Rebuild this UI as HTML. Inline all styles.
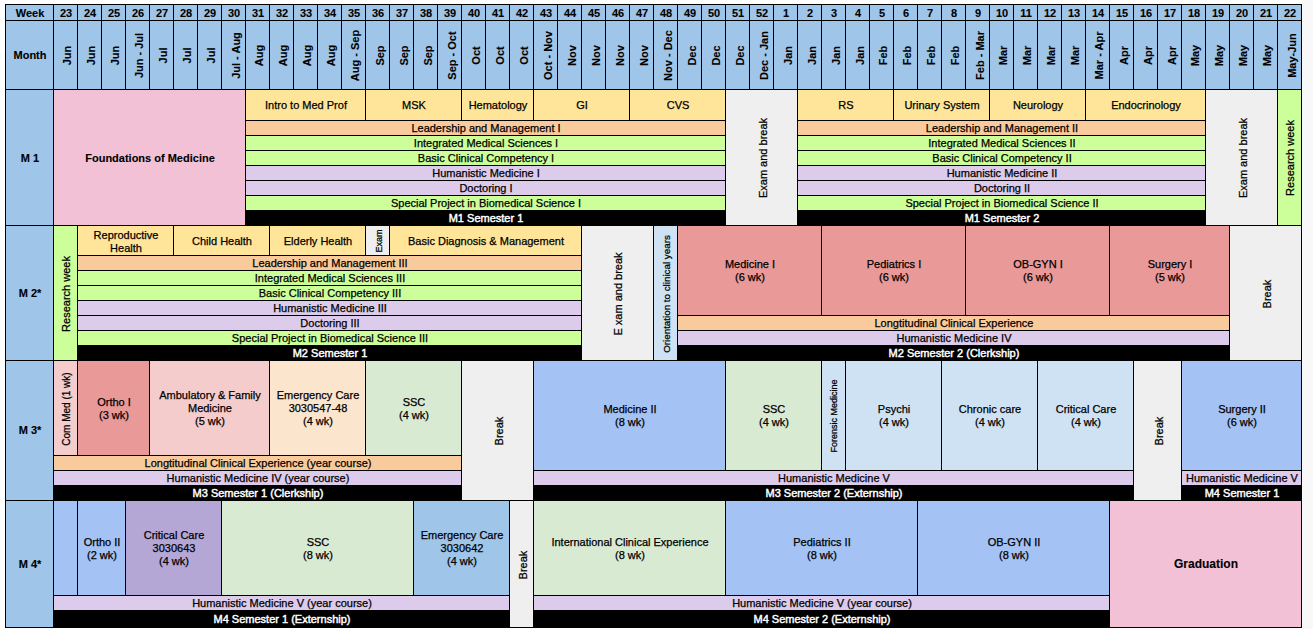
<!DOCTYPE html>
<html><head><meta charset="utf-8"><style>
html,body{margin:0;padding:0;}
body{width:1313px;height:629px;background:#fff;position:relative;overflow:hidden;font-family:"Liberation Sans",sans-serif;font-size:11px;color:#000;-webkit-text-stroke:0.25px currentColor;}
.c{position:absolute;box-sizing:border-box;border:1px solid #000;display:flex;align-items:center;justify-content:center;text-align:center;line-height:13px;white-space:nowrap;overflow:visible;}
.b{font-weight:bold;-webkit-text-stroke:0.1px #000;}
.sem{color:#fff;-webkit-text-stroke:0.45px #fff;}
.rot span{display:block;transform:translate(1px,0.5px) rotate(-90deg);}
.mo span{transform:translate(2px,0) rotate(-90deg);}
.hd{padding-top:2px;}
.sm10{font-size:10px;}
.pt2{padding-top:2px;}
.c{padding-left:1px;}

#rs{position:absolute;left:1302px;top:0;width:11px;height:629px;background:#f7f8f7;}
.sm{font-size:9px;}
.big{font-size:12px;}
</style></head><body>
<div id="rs"></div>

<div class="c b hd" style="left:5px;top:4px;width:49px;height:17px;background:#9fc5e8;">Week</div>
<div class="c b hd" style="left:53px;top:4px;width:25px;height:17px;background:#9fc5e8;">23</div>
<div class="c b hd" style="left:77px;top:4px;width:25px;height:17px;background:#9fc5e8;">24</div>
<div class="c b hd" style="left:101px;top:4px;width:25px;height:17px;background:#9fc5e8;">25</div>
<div class="c b hd" style="left:125px;top:4px;width:25px;height:17px;background:#9fc5e8;">26</div>
<div class="c b hd" style="left:149px;top:4px;width:25px;height:17px;background:#9fc5e8;">27</div>
<div class="c b hd" style="left:173px;top:4px;width:25px;height:17px;background:#9fc5e8;">28</div>
<div class="c b hd" style="left:197px;top:4px;width:25px;height:17px;background:#9fc5e8;">29</div>
<div class="c b hd" style="left:221px;top:4px;width:25px;height:17px;background:#9fc5e8;">30</div>
<div class="c b hd" style="left:245px;top:4px;width:25px;height:17px;background:#9fc5e8;">31</div>
<div class="c b hd" style="left:269px;top:4px;width:25px;height:17px;background:#9fc5e8;">32</div>
<div class="c b hd" style="left:293px;top:4px;width:25px;height:17px;background:#9fc5e8;">33</div>
<div class="c b hd" style="left:317px;top:4px;width:25px;height:17px;background:#9fc5e8;">34</div>
<div class="c b hd" style="left:341px;top:4px;width:25px;height:17px;background:#9fc5e8;">35</div>
<div class="c b hd" style="left:365px;top:4px;width:25px;height:17px;background:#9fc5e8;">36</div>
<div class="c b hd" style="left:389px;top:4px;width:25px;height:17px;background:#9fc5e8;">37</div>
<div class="c b hd" style="left:413px;top:4px;width:25px;height:17px;background:#9fc5e8;">38</div>
<div class="c b hd" style="left:437px;top:4px;width:25px;height:17px;background:#9fc5e8;">39</div>
<div class="c b hd" style="left:461px;top:4px;width:25px;height:17px;background:#9fc5e8;">40</div>
<div class="c b hd" style="left:485px;top:4px;width:25px;height:17px;background:#9fc5e8;">41</div>
<div class="c b hd" style="left:509px;top:4px;width:25px;height:17px;background:#9fc5e8;">42</div>
<div class="c b hd" style="left:533px;top:4px;width:25px;height:17px;background:#9fc5e8;">43</div>
<div class="c b hd" style="left:557px;top:4px;width:25px;height:17px;background:#9fc5e8;">44</div>
<div class="c b hd" style="left:581px;top:4px;width:25px;height:17px;background:#9fc5e8;">45</div>
<div class="c b hd" style="left:605px;top:4px;width:25px;height:17px;background:#9fc5e8;">46</div>
<div class="c b hd" style="left:629px;top:4px;width:25px;height:17px;background:#9fc5e8;">47</div>
<div class="c b hd" style="left:653px;top:4px;width:25px;height:17px;background:#9fc5e8;">48</div>
<div class="c b hd" style="left:677px;top:4px;width:25px;height:17px;background:#9fc5e8;">49</div>
<div class="c b hd" style="left:701px;top:4px;width:25px;height:17px;background:#9fc5e8;">50</div>
<div class="c b hd" style="left:725px;top:4px;width:25px;height:17px;background:#9fc5e8;">51</div>
<div class="c b hd" style="left:749px;top:4px;width:25px;height:17px;background:#9fc5e8;">52</div>
<div class="c b hd" style="left:773px;top:4px;width:25px;height:17px;background:#9fc5e8;">1</div>
<div class="c b hd" style="left:797px;top:4px;width:25px;height:17px;background:#9fc5e8;">2</div>
<div class="c b hd" style="left:821px;top:4px;width:25px;height:17px;background:#9fc5e8;">3</div>
<div class="c b hd" style="left:845px;top:4px;width:25px;height:17px;background:#9fc5e8;">4</div>
<div class="c b hd" style="left:869px;top:4px;width:25px;height:17px;background:#9fc5e8;">5</div>
<div class="c b hd" style="left:893px;top:4px;width:25px;height:17px;background:#9fc5e8;">6</div>
<div class="c b hd" style="left:917px;top:4px;width:25px;height:17px;background:#9fc5e8;">7</div>
<div class="c b hd" style="left:941px;top:4px;width:25px;height:17px;background:#9fc5e8;">8</div>
<div class="c b hd" style="left:965px;top:4px;width:25px;height:17px;background:#9fc5e8;">9</div>
<div class="c b hd" style="left:989px;top:4px;width:25px;height:17px;background:#9fc5e8;">10</div>
<div class="c b hd" style="left:1013px;top:4px;width:25px;height:17px;background:#9fc5e8;">11</div>
<div class="c b hd" style="left:1037px;top:4px;width:25px;height:17px;background:#9fc5e8;">12</div>
<div class="c b hd" style="left:1061px;top:4px;width:25px;height:17px;background:#9fc5e8;">13</div>
<div class="c b hd" style="left:1085px;top:4px;width:25px;height:17px;background:#9fc5e8;">14</div>
<div class="c b hd" style="left:1109px;top:4px;width:25px;height:17px;background:#9fc5e8;">15</div>
<div class="c b hd" style="left:1133px;top:4px;width:25px;height:17px;background:#9fc5e8;">16</div>
<div class="c b hd" style="left:1157px;top:4px;width:25px;height:17px;background:#9fc5e8;">17</div>
<div class="c b hd" style="left:1181px;top:4px;width:25px;height:17px;background:#9fc5e8;">18</div>
<div class="c b hd" style="left:1205px;top:4px;width:25px;height:17px;background:#9fc5e8;">19</div>
<div class="c b hd" style="left:1229px;top:4px;width:25px;height:17px;background:#9fc5e8;">20</div>
<div class="c b hd" style="left:1253px;top:4px;width:25px;height:17px;background:#9fc5e8;">21</div>
<div class="c b hd" style="left:1277px;top:4px;width:25px;height:17px;background:#9fc5e8;">22</div>
<div class="c b" style="left:5px;top:20px;width:49px;height:70px;background:#9fc5e8;">Month</div>
<div class="c b rot mo" style="left:53px;top:20px;width:25px;height:70px;background:#9fc5e8;"><span>Jun</span></div>
<div class="c b rot mo" style="left:77px;top:20px;width:25px;height:70px;background:#9fc5e8;"><span>Jun</span></div>
<div class="c b rot mo" style="left:101px;top:20px;width:25px;height:70px;background:#9fc5e8;"><span>Jun</span></div>
<div class="c b rot mo" style="left:125px;top:20px;width:25px;height:70px;background:#9fc5e8;"><span>Jun - Jul</span></div>
<div class="c b rot mo" style="left:149px;top:20px;width:25px;height:70px;background:#9fc5e8;"><span>Jul</span></div>
<div class="c b rot mo" style="left:173px;top:20px;width:25px;height:70px;background:#9fc5e8;"><span>Jul</span></div>
<div class="c b rot mo" style="left:197px;top:20px;width:25px;height:70px;background:#9fc5e8;"><span>Jul</span></div>
<div class="c b rot mo" style="left:221px;top:20px;width:25px;height:70px;background:#9fc5e8;"><span>Jul - Aug</span></div>
<div class="c b rot mo" style="left:245px;top:20px;width:25px;height:70px;background:#9fc5e8;"><span>Aug</span></div>
<div class="c b rot mo" style="left:269px;top:20px;width:25px;height:70px;background:#9fc5e8;"><span>Aug</span></div>
<div class="c b rot mo" style="left:293px;top:20px;width:25px;height:70px;background:#9fc5e8;"><span>Aug</span></div>
<div class="c b rot mo" style="left:317px;top:20px;width:25px;height:70px;background:#9fc5e8;"><span>Aug</span></div>
<div class="c b rot mo" style="left:341px;top:20px;width:25px;height:70px;background:#9fc5e8;"><span>Aug - Sep</span></div>
<div class="c b rot mo" style="left:365px;top:20px;width:25px;height:70px;background:#9fc5e8;"><span>Sep</span></div>
<div class="c b rot mo" style="left:389px;top:20px;width:25px;height:70px;background:#9fc5e8;"><span>Sep</span></div>
<div class="c b rot mo" style="left:413px;top:20px;width:25px;height:70px;background:#9fc5e8;"><span>Sep</span></div>
<div class="c b rot mo" style="left:437px;top:20px;width:25px;height:70px;background:#9fc5e8;"><span>Sep - Oct</span></div>
<div class="c b rot mo" style="left:461px;top:20px;width:25px;height:70px;background:#9fc5e8;"><span>Oct</span></div>
<div class="c b rot mo" style="left:485px;top:20px;width:25px;height:70px;background:#9fc5e8;"><span>Oct</span></div>
<div class="c b rot mo" style="left:509px;top:20px;width:25px;height:70px;background:#9fc5e8;"><span>Oct</span></div>
<div class="c b rot mo" style="left:533px;top:20px;width:25px;height:70px;background:#9fc5e8;"><span>Oct - Nov</span></div>
<div class="c b rot mo" style="left:557px;top:20px;width:25px;height:70px;background:#9fc5e8;"><span>Nov</span></div>
<div class="c b rot mo" style="left:581px;top:20px;width:25px;height:70px;background:#9fc5e8;"><span>Nov</span></div>
<div class="c b rot mo" style="left:605px;top:20px;width:25px;height:70px;background:#9fc5e8;"><span>Nov</span></div>
<div class="c b rot mo" style="left:629px;top:20px;width:25px;height:70px;background:#9fc5e8;"><span>Nov</span></div>
<div class="c b rot mo" style="left:653px;top:20px;width:25px;height:70px;background:#9fc5e8;"><span>Nov - Dec</span></div>
<div class="c b rot mo" style="left:677px;top:20px;width:25px;height:70px;background:#9fc5e8;"><span>Dec</span></div>
<div class="c b rot mo" style="left:701px;top:20px;width:25px;height:70px;background:#9fc5e8;"><span>Dec</span></div>
<div class="c b rot mo" style="left:725px;top:20px;width:25px;height:70px;background:#9fc5e8;"><span>Dec</span></div>
<div class="c b rot mo" style="left:749px;top:20px;width:25px;height:70px;background:#9fc5e8;"><span>Dec - Jan</span></div>
<div class="c b rot mo" style="left:773px;top:20px;width:25px;height:70px;background:#9fc5e8;"><span>Jan</span></div>
<div class="c b rot mo" style="left:797px;top:20px;width:25px;height:70px;background:#9fc5e8;"><span>Jan</span></div>
<div class="c b rot mo" style="left:821px;top:20px;width:25px;height:70px;background:#9fc5e8;"><span>Jan</span></div>
<div class="c b rot mo" style="left:845px;top:20px;width:25px;height:70px;background:#9fc5e8;"><span>Jan</span></div>
<div class="c b rot mo" style="left:869px;top:20px;width:25px;height:70px;background:#9fc5e8;"><span>Feb</span></div>
<div class="c b rot mo" style="left:893px;top:20px;width:25px;height:70px;background:#9fc5e8;"><span>Feb</span></div>
<div class="c b rot mo" style="left:917px;top:20px;width:25px;height:70px;background:#9fc5e8;"><span>Feb</span></div>
<div class="c b rot mo" style="left:941px;top:20px;width:25px;height:70px;background:#9fc5e8;"><span>Feb</span></div>
<div class="c b rot mo" style="left:965px;top:20px;width:25px;height:70px;background:#9fc5e8;"><span>Feb - Mar</span></div>
<div class="c b rot mo" style="left:989px;top:20px;width:25px;height:70px;background:#9fc5e8;"><span>Mar</span></div>
<div class="c b rot mo" style="left:1013px;top:20px;width:25px;height:70px;background:#9fc5e8;"><span>Mar</span></div>
<div class="c b rot mo" style="left:1037px;top:20px;width:25px;height:70px;background:#9fc5e8;"><span>Mar</span></div>
<div class="c b rot mo" style="left:1061px;top:20px;width:25px;height:70px;background:#9fc5e8;"><span>Mar</span></div>
<div class="c b rot mo" style="left:1085px;top:20px;width:25px;height:70px;background:#9fc5e8;"><span>Mar - Apr</span></div>
<div class="c b rot mo" style="left:1109px;top:20px;width:25px;height:70px;background:#9fc5e8;"><span>Apr</span></div>
<div class="c b rot mo" style="left:1133px;top:20px;width:25px;height:70px;background:#9fc5e8;"><span>Apr</span></div>
<div class="c b rot mo" style="left:1157px;top:20px;width:25px;height:70px;background:#9fc5e8;"><span>Apr</span></div>
<div class="c b rot mo" style="left:1181px;top:20px;width:25px;height:70px;background:#9fc5e8;"><span>May</span></div>
<div class="c b rot mo" style="left:1205px;top:20px;width:25px;height:70px;background:#9fc5e8;"><span>May</span></div>
<div class="c b rot mo" style="left:1229px;top:20px;width:25px;height:70px;background:#9fc5e8;"><span>May</span></div>
<div class="c b rot mo" style="left:1253px;top:20px;width:25px;height:70px;background:#9fc5e8;"><span>May</span></div>
<div class="c b rot mo" style="left:1277px;top:20px;width:25px;height:70px;background:#9fc5e8;"><span>May-Jun</span></div>
<div class="c b pt2" style="left:5px;top:89px;width:49px;height:137px;background:#9fc5e8;">M 1</div>
<div class="c b" style="left:5px;top:225px;width:49px;height:136px;background:#9fc5e8;">M 2*</div>
<div class="c b" style="left:5px;top:360px;width:49px;height:141px;background:#9fc5e8;">M 3*</div>
<div class="c b" style="left:5px;top:500px;width:49px;height:128px;background:#9fc5e8;">M 4*</div>
<div class="c b pt2" style="left:53px;top:89px;width:193px;height:137px;background:#f2c1d6;">Foundations of Medicine</div>
<div class="c " style="left:245px;top:89px;width:121px;height:32px;background:#ffe599;">Intro to Med Prof</div>
<div class="c " style="left:365px;top:89px;width:97px;height:32px;background:#ffe599;">MSK</div>
<div class="c " style="left:461px;top:89px;width:73px;height:32px;background:#ffe599;">Hematology</div>
<div class="c " style="left:533px;top:89px;width:97px;height:32px;background:#ffe599;">GI</div>
<div class="c " style="left:629px;top:89px;width:97px;height:32px;background:#ffe599;">CVS</div>
<div class="c " style="left:245px;top:120px;width:481px;height:16px;background:#f9cb9c;">Leadership and Management I</div>
<div class="c " style="left:245px;top:135px;width:481px;height:16px;background:#ccff99;">Integrated Medical Sciences I</div>
<div class="c " style="left:245px;top:150px;width:481px;height:16px;background:#ccff99;">Basic Clinical Competency I</div>
<div class="c " style="left:245px;top:165px;width:481px;height:16px;background:#dccbea;">Humanistic Medicine I</div>
<div class="c " style="left:245px;top:180px;width:481px;height:16px;background:#dccbea;">Doctoring I</div>
<div class="c " style="left:245px;top:195px;width:481px;height:16px;background:#ccff99;">Special Project in Biomedical Science I</div>
<div class="c sem" style="left:245px;top:210px;width:481px;height:16px;background:#000000;">M1 Semester 1</div>
<div class="c rot" style="left:725px;top:89px;width:73px;height:137px;background:#efefef;"><span>Exam and break</span></div>
<div class="c " style="left:797px;top:89px;width:97px;height:32px;background:#ffe599;">RS</div>
<div class="c " style="left:893px;top:89px;width:97px;height:32px;background:#ffe599;">Urinary System</div>
<div class="c " style="left:989px;top:89px;width:97px;height:32px;background:#ffe599;">Neurology</div>
<div class="c " style="left:1085px;top:89px;width:121px;height:32px;background:#ffe599;">Endocrinology</div>
<div class="c " style="left:797px;top:120px;width:409px;height:16px;background:#f9cb9c;">Leadership and Management II</div>
<div class="c " style="left:797px;top:135px;width:409px;height:16px;background:#ccff99;">Integrated Medical Sciences II</div>
<div class="c " style="left:797px;top:150px;width:409px;height:16px;background:#ccff99;">Basic Clinical Competency II</div>
<div class="c " style="left:797px;top:165px;width:409px;height:16px;background:#dccbea;">Humanistic Medicine II</div>
<div class="c " style="left:797px;top:180px;width:409px;height:16px;background:#dccbea;">Doctoring II</div>
<div class="c " style="left:797px;top:195px;width:409px;height:16px;background:#ccff99;">Special Project in Biomedical Science II</div>
<div class="c sem" style="left:797px;top:210px;width:409px;height:16px;background:#000000;">M1 Semester 2</div>
<div class="c rot" style="left:1205px;top:89px;width:73px;height:137px;background:#efefef;"><span>Exam and break</span></div>
<div class="c rot" style="left:1277px;top:89px;width:25px;height:137px;background:#ccff99;"><span>Research week</span></div>
<div class="c rot" style="left:53px;top:225px;width:25px;height:136px;background:#ccff99;"><span>Research week</span></div>
<div class="c pt2" style="left:77px;top:225px;width:97px;height:31px;background:#ffe599;">Reproductive<br>Health</div>
<div class="c pt2" style="left:173px;top:225px;width:97px;height:31px;background:#ffe599;">Child Health</div>
<div class="c pt2" style="left:269px;top:225px;width:97px;height:31px;background:#ffe599;">Elderly Health</div>
<div class="c rot sm" style="left:365px;top:225px;width:25px;height:31px;background:#efefef;"><span>Exam</span></div>
<div class="c pt2" style="left:389px;top:225px;width:193px;height:31px;background:#ffe599;">Basic Diagnosis &amp; Management</div>
<div class="c " style="left:77px;top:255px;width:505px;height:16px;background:#f9cb9c;">Leadership and Management III</div>
<div class="c " style="left:77px;top:270px;width:505px;height:16px;background:#ccff99;">Integrated Medical Sciences III</div>
<div class="c " style="left:77px;top:285px;width:505px;height:16px;background:#ccff99;">Basic Clinical Competency III</div>
<div class="c " style="left:77px;top:300px;width:505px;height:16px;background:#dccbea;">Humanistic Medicine III</div>
<div class="c " style="left:77px;top:315px;width:505px;height:16px;background:#dccbea;">Doctoring III</div>
<div class="c " style="left:77px;top:330px;width:505px;height:16px;background:#ccff99;">Special Project in Biomedical Science III</div>
<div class="c sem" style="left:77px;top:345px;width:505px;height:16px;background:#000000;">M2 Semester 1</div>
<div class="c rot" style="left:581px;top:225px;width:73px;height:136px;background:#efefef;"><span>E xam and break</span></div>
<div class="c rot sm10" style="left:653px;top:225px;width:25px;height:136px;background:#cfe2f3;font-size:9.8px;"><span>Orientation to clinical years</span></div>
<div class="c " style="left:677px;top:225px;width:145px;height:91px;background:#ea9999;">Medicine I<br>(6 wk)</div>
<div class="c " style="left:821px;top:225px;width:145px;height:91px;background:#ea9999;">Pediatrics I<br>(6 wk)</div>
<div class="c " style="left:965px;top:225px;width:145px;height:91px;background:#ea9999;">OB-GYN I<br>(6 wk)</div>
<div class="c " style="left:1109px;top:225px;width:121px;height:91px;background:#ea9999;">Surgery I<br>(5 wk)</div>
<div class="c " style="left:677px;top:315px;width:553px;height:16px;background:#f9cb9c;">Longtitudinal Clinical Experience</div>
<div class="c " style="left:677px;top:330px;width:553px;height:16px;background:#dccbea;">Humanistic Medicine IV</div>
<div class="c sem" style="left:677px;top:345px;width:553px;height:16px;background:#000000;">M2 Semester 2 (Clerkship)</div>
<div class="c rot" style="left:1229px;top:225px;width:73px;height:136px;background:#efefef;"><span>Break</span></div>
<div class="c rot sm10" style="left:53px;top:360px;width:25px;height:96px;background:#f4cccc;"><span>Com Med (1 wk)</span></div>
<div class="c pt2" style="left:77px;top:360px;width:73px;height:96px;background:#ea9999;">Ortho I<br>(3 wk)</div>
<div class="c " style="left:149px;top:360px;width:121px;height:96px;background:#f4cccc;">Ambulatory &amp; Family<br>Medicine<br>(5 wk)</div>
<div class="c " style="left:269px;top:360px;width:97px;height:96px;background:#fce5cd;">Emergency Care<br>3030547-48<br>(4 wk)</div>
<div class="c pt2" style="left:365px;top:360px;width:97px;height:96px;background:#d9ead3;">SSC<br>(4 wk)</div>
<div class="c " style="left:53px;top:455px;width:409px;height:16px;background:#f9cb9c;">Longtitudinal Clinical Experience (year course)</div>
<div class="c " style="left:53px;top:470px;width:409px;height:16px;background:#dccbea;">Humanistic Medicine IV (year course)</div>
<div class="c sem" style="left:53px;top:485px;width:409px;height:16px;background:#000000;">M3 Semester 1 (Clerkship)</div>
<div class="c rot" style="left:461px;top:360px;width:73px;height:141px;background:#efefef;"><span>Break</span></div>
<div class="c " style="left:533px;top:360px;width:193px;height:111px;background:#a4c2f4;">Medicine II<br>(8 wk)</div>
<div class="c " style="left:725px;top:360px;width:97px;height:111px;background:#d9ead3;">SSC<br>(4 wk)</div>
<div class="c rot sm" style="left:821px;top:360px;width:25px;height:111px;background:#cfe2f3;"><span>Forensic Medicine</span></div>
<div class="c " style="left:845px;top:360px;width:97px;height:111px;background:#cfe2f3;">Psychi<br>(4 wk)</div>
<div class="c " style="left:941px;top:360px;width:97px;height:111px;background:#cfe2f3;">Chronic care<br>(4 wk)</div>
<div class="c " style="left:1037px;top:360px;width:97px;height:111px;background:#cfe2f3;">Critical Care<br>(4 wk)</div>
<div class="c " style="left:533px;top:470px;width:601px;height:16px;background:#dccbea;">Humanistic Medicine V</div>
<div class="c sem" style="left:533px;top:485px;width:601px;height:16px;background:#000000;">M3 Semester 2 (Externship)</div>
<div class="c rot" style="left:1133px;top:360px;width:49px;height:141px;background:#efefef;"><span>Break</span></div>
<div class="c " style="left:1181px;top:360px;width:121px;height:111px;background:#a4c2f4;">Surgery II<br>(6 wk)</div>
<div class="c " style="left:1181px;top:470px;width:121px;height:16px;background:#dccbea;">Humanistic Medicine V</div>
<div class="c sem" style="left:1181px;top:485px;width:121px;height:16px;background:#000000;">M4 Semester 1</div>
<div class="c " style="left:53px;top:500px;width:25px;height:96px;background:#a4c2f4;"></div>
<div class="c pt2" style="left:77px;top:500px;width:49px;height:96px;background:#a4c2f4;">Ortho II<br>(2 wk)</div>
<div class="c " style="left:125px;top:500px;width:97px;height:96px;background:#b4a7d6;">Critical Care<br>3030643<br>(4 wk)</div>
<div class="c pt2" style="left:221px;top:500px;width:193px;height:96px;background:#d9ead3;">SSC<br>(8 wk)</div>
<div class="c " style="left:413px;top:500px;width:97px;height:96px;background:#9fc5e8;">Emergency Care<br>3030642<br>(4 wk)</div>
<div class="c " style="left:53px;top:595px;width:457px;height:16px;background:#dccbea;">Humanistic Medicine V (year course)</div>
<div class="c sem" style="left:53px;top:610px;width:457px;height:18px;background:#000000;">M4 Semester 1 (Externship)</div>
<div class="c rot" style="left:509px;top:500px;width:25px;height:128px;background:#efefef;"><span>Break</span></div>
<div class="c pt2" style="left:533px;top:500px;width:193px;height:96px;background:#d9ead3;">International Clinical Experience<br>(8 wk)</div>
<div class="c pt2" style="left:725px;top:500px;width:193px;height:96px;background:#a4c2f4;">Pediatrics II<br>(8 wk)</div>
<div class="c pt2" style="left:917px;top:500px;width:193px;height:96px;background:#a4c2f4;">OB-GYN II<br>(8 wk)</div>
<div class="c " style="left:533px;top:595px;width:577px;height:16px;background:#dccbea;">Humanistic Medicine V (year course)</div>
<div class="c sem" style="left:533px;top:610px;width:577px;height:18px;background:#000000;">M4 Semester 2 (Externship)</div>
<div class="c b big" style="left:1109px;top:500px;width:193px;height:128px;background:#f2c1d6;">Graduation</div>
</body></html>
